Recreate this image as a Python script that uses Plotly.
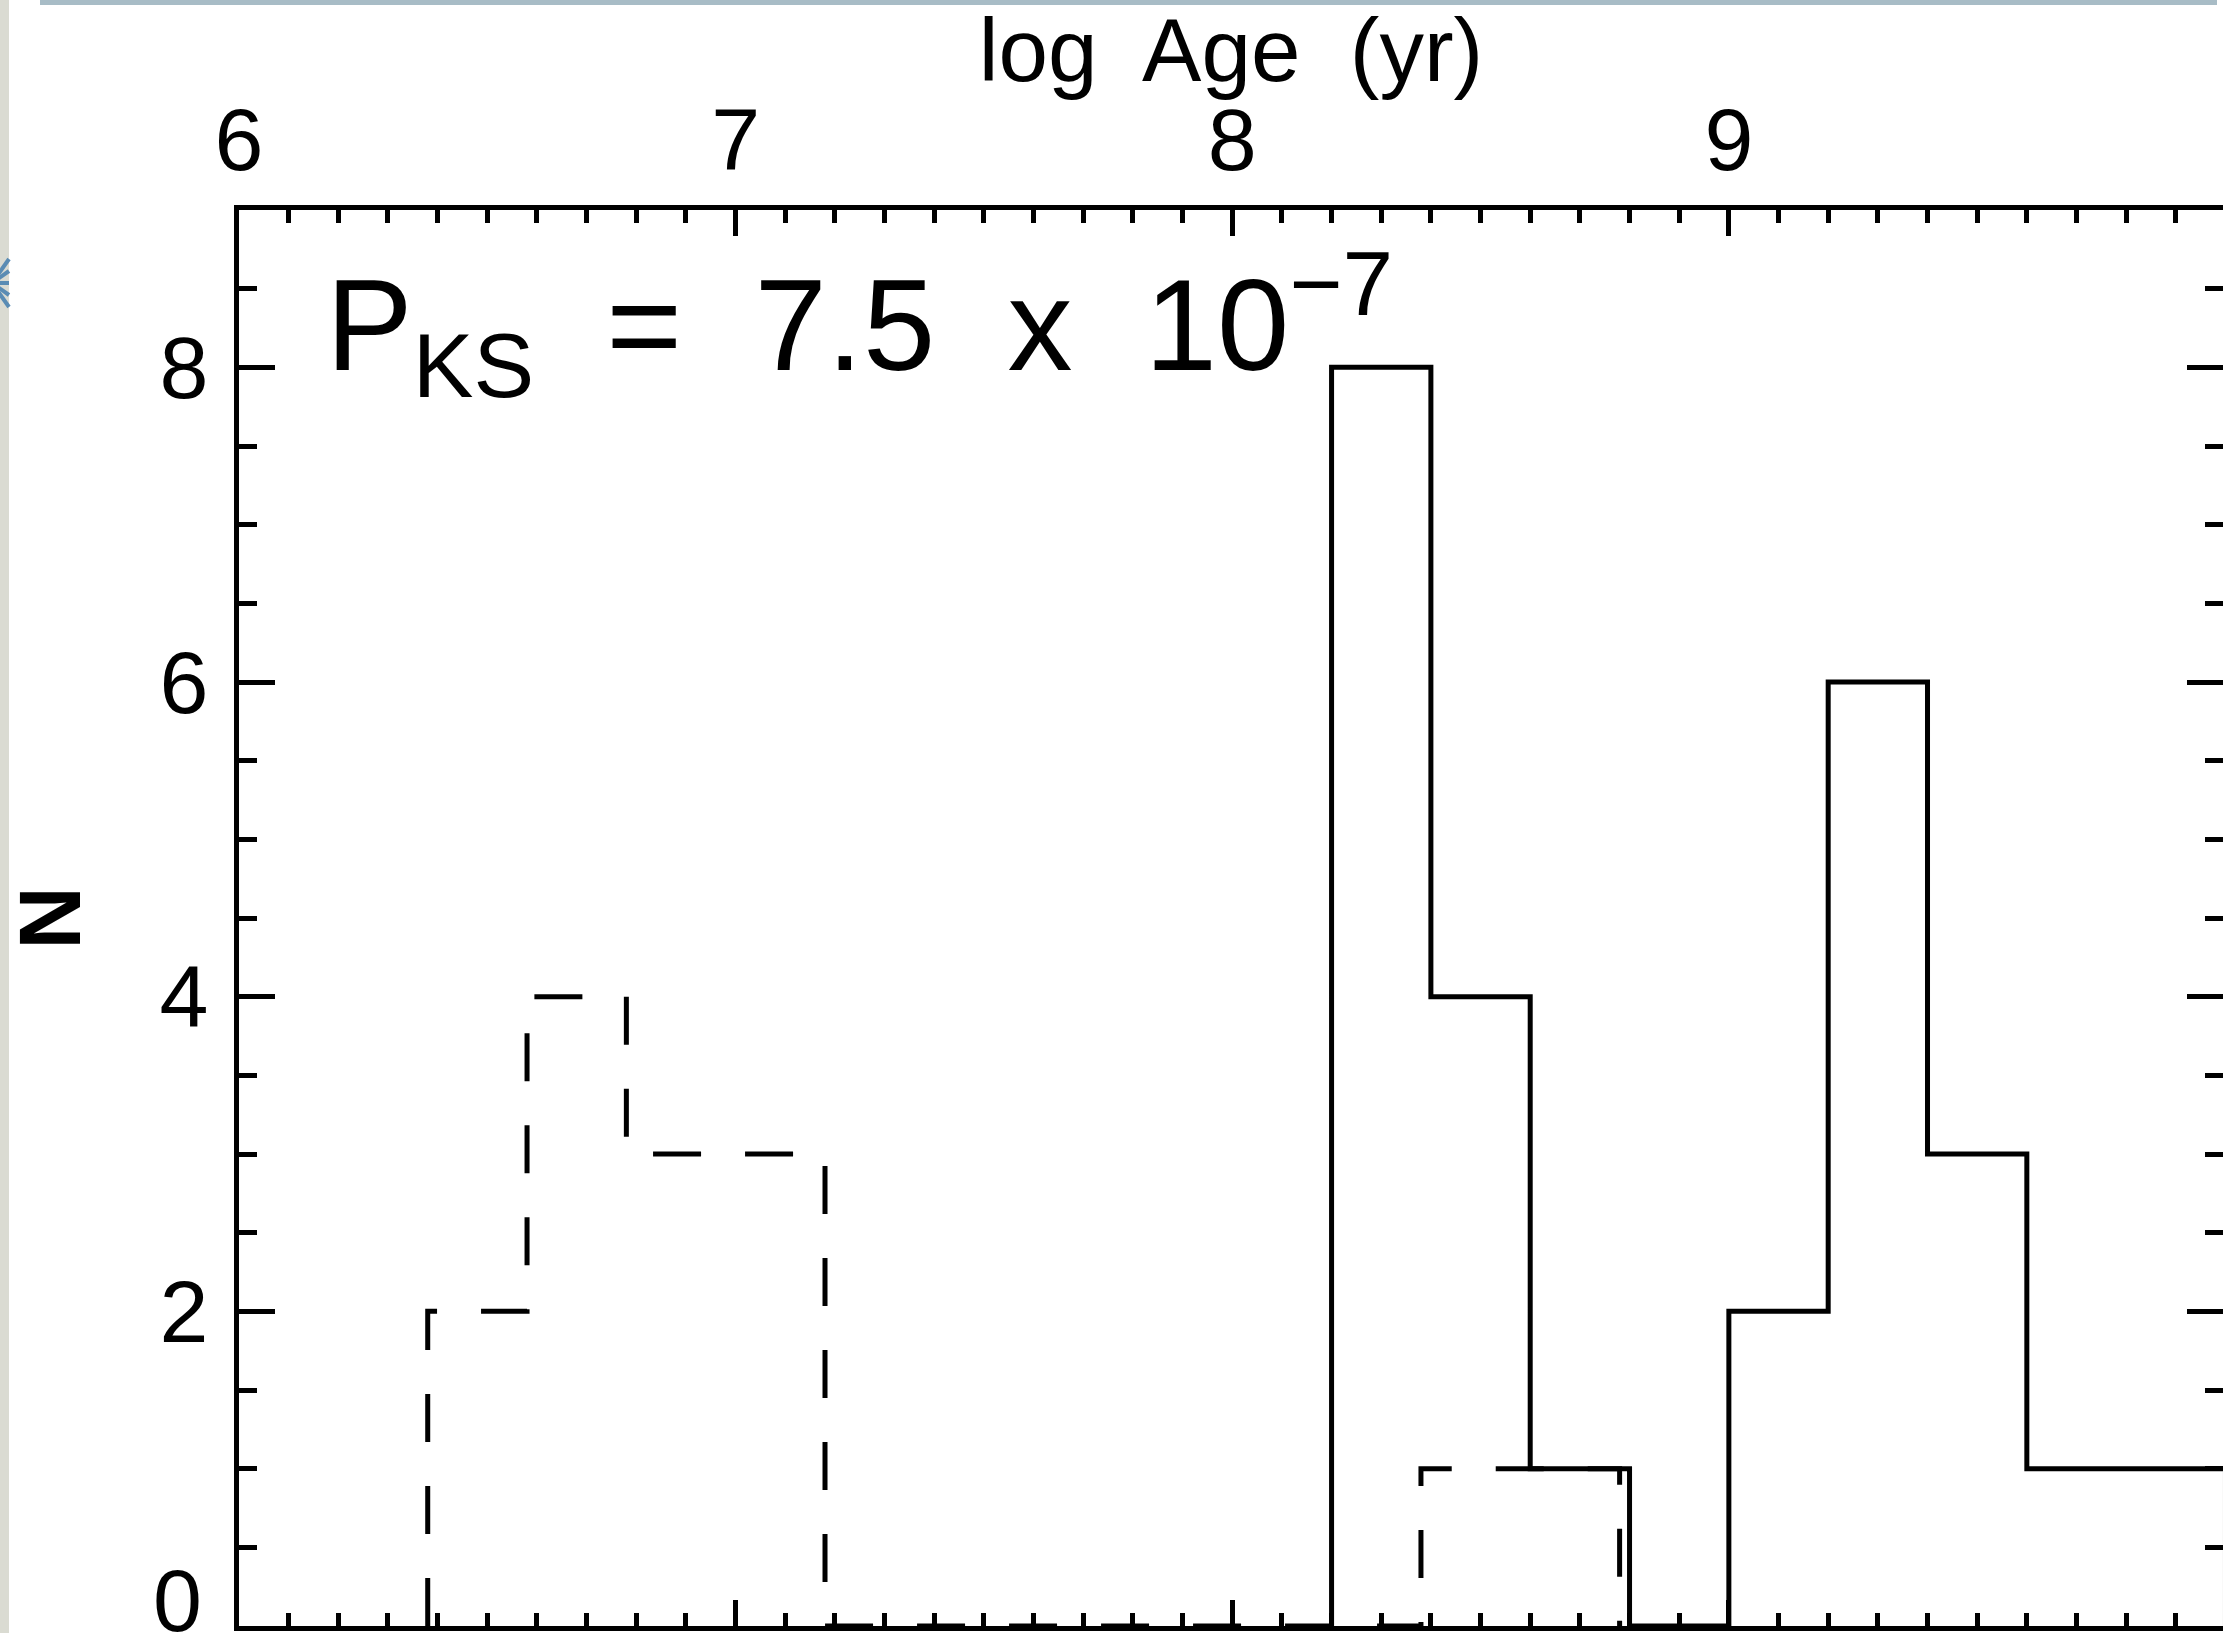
import numpy as np
import plotly.graph_objects as go

# ---- data: age histograms (log yr), bin width 0.2 dex ----
bin_width = 0.2
solid_start = 8.2
solid_counts = [8, 4, 1, 0, 2, 6, 3, 1, 1]
dashed_start = 6.38
dashed_counts = [2, 4, 3, 3, 0, 0, 0, 0, 0, 0, 1, 1]

x_ticks = [6, 7, 8, 9]
y_ticks = [0, 2, 4, 6, 8]
y_label_ticks = [2, 4, 6, 8]
x_range = [6, 9.995]
y_range = [0, 9]
ks_label = "P<sub>KS</sub>  =  7.5  x  10<sup>−7</sup>"

# ---- page geometry ----
W, H = 2223, 1633
M_L, M_R, M_T, M_B = 239, 0, 210, 7
PW, PH = W - M_L - M_R, H - M_T - M_B
FONT = "Liberation Sans, Arial, sans-serif"
LW = 5


def step_path(start, counts, width):
    """Outline of a histogram: up from zero at the first edge, down at the last."""
    counts = np.asarray(counts, dtype=float)
    edges = start + width * np.arange(len(counts) + 1)
    xs = np.concatenate([[edges[0]], edges])
    ys = np.concatenate([[0.0], counts, [0.0]])
    return xs, ys


def px_x(px):
    return (px - M_L) / PW


def px_y(py):
    return (H - M_B - py) / PH


sx, sy = step_path(solid_start, solid_counts, bin_width)
dx, dy = step_path(dashed_start, dashed_counts, bin_width)

fig = go.Figure()
fig.add_trace(go.Scatter(x=sx, y=sy, mode="lines", line_shape="hv",
                         line=dict(color="black", width=LW),
                         showlegend=False, hoverinfo="skip"))
fig.add_trace(go.Scatter(x=dx, y=dy, mode="lines", line_shape="hv",
                         line=dict(color="black", width=LW, dash="48px,44px"),
                         showlegend=False, hoverinfo="skip"))
# invisible copies so the top and right axes get drawn
fig.add_trace(go.Scatter(x=sx, y=sy, xaxis="x2", yaxis="y", mode="lines",
                         line=dict(width=0), opacity=0,
                         showlegend=False, hoverinfo="skip"))
fig.add_trace(go.Scatter(x=sx, y=sy, xaxis="x", yaxis="y2", mode="lines",
                         line=dict(width=0), opacity=0,
                         showlegend=False, hoverinfo="skip"))

axis_line = dict(showgrid=False, zeroline=False, showline=True,
                 linecolor="black", linewidth=LW, ticks="inside",
                 tickcolor="black", tickwidth=LW)
x_minor = dict(dtick=0.1, tick0=6, ticklen=13, tickwidth=LW,
               tickcolor="black", ticks="inside")
y_minor = dict(dtick=0.5, tick0=0, ticklen=18, tickwidth=LW,
               tickcolor="black", ticks="inside")
tick_font = dict(family=FONT, size=88, color="black")

fig.update_layout(
    width=W, height=H,
    margin=dict(l=M_L, r=M_R, t=M_T, b=M_B, pad=0),
    paper_bgcolor="white", plot_bgcolor="white",
    xaxis=dict(range=x_range, tickmode="array", tickvals=x_ticks,
               ticklen=26, showticklabels=False, minor=x_minor,
               anchor="y", **axis_line),
    xaxis2=dict(range=x_range, tickmode="array", tickvals=x_ticks,
                ticklen=26, showticklabels=True, tickfont=tick_font,
                minor=x_minor, overlaying="x", side="top", anchor="y",
                title=dict(text="log  Age  (yr)",
                           font=dict(family=FONT, size=89, color="black"),
                           standoff=2),
                **axis_line),
    yaxis=dict(range=y_range, tickmode="array", tickvals=y_label_ticks,
               ticklen=36, tickfont=tick_font,
               ticklabelstandoff=8, minor=y_minor, anchor="x",
               title=dict(text="<b>N</b>",
                          font=dict(family=FONT, size=88, color="black"),
                          standoff=55),
               **axis_line),
    yaxis2=dict(range=y_range, tickmode="array", tickvals=y_ticks,
                ticklen=36, showticklabels=False, minor=y_minor,
                overlaying="y", side="right", anchor="x", **axis_line),
)

annotations = [
    dict(text=ks_label, xref="x", yref="y", x=6.172, y=8.27,
         xanchor="left", yanchor="middle", showarrow=False,
         font=dict(family=FONT, size=130, color="black")),
    # zero label sits a little above its tick
    dict(text="0", xref="paper", yref="y", x=px_x(204), y=y_ticks[0],
         yshift=26, xanchor="right", yanchor="middle", showarrow=False,
         font=tick_font),
]
fig.update_layout(annotations=annotations)

# slide frame around the figure: grey strip on the left, blue-grey strip on top
shapes = [
    dict(type="rect", xref="paper", yref="paper",
         x0=px_x(0), x1=px_x(9), y0=px_y(H), y1=px_y(0),
         fillcolor="#dadbd2", line=dict(width=0), layer="above"),
    dict(type="rect", xref="paper", yref="paper",
         x0=px_x(40), x1=px_x(2217), y0=px_y(5), y1=px_y(0),
         fillcolor="#a8bcc6", line=dict(width=0), layer="above"),
]
# partly hidden snowflake ornament at the left edge
for ex, ey in [(9, 283), (9, 271), (9, 295), (9, 259), (9, 307)]:
    shapes.append(dict(type="line", xref="paper", yref="paper",
                       x0=px_x(-8), y0=px_y(283), x1=px_x(ex), y1=px_y(ey),
                       line=dict(color="#5a8cb4", width=4), layer="above"))
fig.update_layout(shapes=shapes)

fig.write_html("out.html")
